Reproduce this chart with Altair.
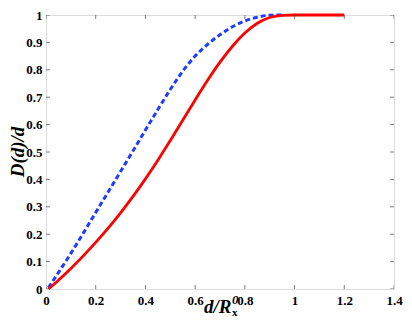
import altair as alt
import pandas as pd

# Red solid curve
red_d = [0.01, 0.05, 0.10, 0.15, 0.20, 0.25, 0.30, 0.35, 0.40, 0.45, 0.50, 0.55,
         0.60, 0.65, 0.70, 0.75, 0.80, 0.85, 0.90, 0.95, 1.00, 1.10, 1.20]
red_v = [0.0, 0.032, 0.075, 0.121, 0.170, 0.222, 0.278, 0.338, 0.402, 0.470, 0.542, 0.616,
         0.690, 0.762, 0.828, 0.886, 0.934, 0.970, 0.991, 0.999, 1.0, 1.0, 1.0]

# Blue dashed curve
blue_d = [0.01, 0.05, 0.10, 0.15, 0.20, 0.25, 0.30, 0.35, 0.40, 0.45, 0.50, 0.55,
          0.60, 0.65, 0.70, 0.75, 0.80, 0.85, 0.90, 0.95]
blue_v = [0.005, 0.06, 0.13, 0.204, 0.279, 0.354, 0.429, 0.504, 0.58, 0.655, 0.728, 0.795,
          0.850, 0.893, 0.928, 0.957, 0.978, 0.992, 0.999, 1.0]

x_ticks = [0, 0.2, 0.4, 0.6, 0.8, 1.0, 1.2, 1.4]
y_ticks = [0, 0.1, 0.2, 0.3, 0.4, 0.5, 0.6, 0.7, 0.8, 0.9, 1.0]

W, H = 348, 274
FONT = "Liberation Serif"

red = pd.DataFrame({"d": red_d, "v": red_v})
blue = pd.DataFrame({"d": blue_d, "v": blue_v})
xt = pd.DataFrame({"t": x_ticks})
yt = pd.DataFrame({"t": y_ticks})

xs = alt.Scale(domain=[0, 1.4], nice=False, zero=False)
ys = alt.Scale(domain=[0, 1], nice=False, zero=False)

xaxis = alt.Axis(values=x_ticks, format="~g", domain=False, ticks=False, grid=False,
                 labelFont=FONT, labelFontWeight="bold", labelFontSize=13,
                 labelColor="black", labelPadding=5, title=None, labelFlush=False,
                 labelOverlap=False)
yaxis = alt.Axis(values=y_ticks, format="~g", domain=False, ticks=False, grid=False,
                 labelFont=FONT, labelFontWeight="bold", labelFontSize=13,
                 labelColor="black", labelPadding=4, title=None, labelFlush=False,
                 labelOverlap=False)

X = lambda f: alt.X(f, scale=xs, axis=xaxis)
Y = lambda f: alt.Y(f, scale=ys, axis=yaxis)

blue_line = alt.Chart(blue).mark_line(
    color="#1f3cff", strokeWidth=3, strokeDash=[5, 3], interpolate="monotone"
).encode(x=X("d:Q"), y=Y("v:Q"))

red_line = alt.Chart(red).mark_line(
    color="#ff0000", strokeWidth=2.8, interpolate="monotone"
).encode(x=X("d:Q"), y=Y("v:Q"))

tick_color = "#444444"
xt_bottom = alt.Chart(xt).mark_tick(orient="vertical", size=8, thickness=1,
                                    color=tick_color, clip=True).encode(
    x=X("t:Q"), y=alt.datum(0, scale=ys, axis=yaxis))
xt_top = alt.Chart(xt).mark_tick(orient="vertical", size=8, thickness=1,
                                 color=tick_color, clip=True).encode(
    x=X("t:Q"), y=alt.datum(1, scale=ys, axis=yaxis))
yt_left = alt.Chart(yt).mark_tick(orient="horizontal", size=8, thickness=1,
                                  color=tick_color, clip=True).encode(
    y=Y("t:Q"), x=alt.datum(0, scale=xs, axis=xaxis))
yt_right = alt.Chart(yt).mark_tick(orient="horizontal", size=8, thickness=1,
                                   color=tick_color, clip=True).encode(
    y=Y("t:Q"), x=alt.datum(1.4, scale=xs, axis=xaxis))

ytitle = alt.Chart(pd.DataFrame({"s": ["D(d)/d"]})).mark_text(
    font=FONT, fontSize=19, fontWeight="bold", fontStyle="italic", angle=270,
    align="center", baseline="middle", color="black"
).encode(text="s:N", x=alt.value(-28), y=alt.value(H / 2))

xtitle = alt.Chart(pd.DataFrame({"s": ["d/R"]})).mark_text(
    font=FONT, fontSize=19, fontWeight="bold", fontStyle="italic",
    align="right", baseline="alphabetic", color="black"
).encode(text="s:N", x=alt.value(185.5), y=alt.value(298))
xsup = alt.Chart(pd.DataFrame({"s": ["0"]})).mark_text(
    font=FONT, fontSize=13, fontWeight="bold", fontStyle="italic",
    align="left", baseline="alphabetic", color="black"
).encode(text="s:N", x=alt.value(186), y=alt.value(289))
xsub = alt.Chart(pd.DataFrame({"s": ["x"]})).mark_text(
    font=FONT, fontSize=11, fontWeight="bold",
    align="left", baseline="alphabetic", color="black"
).encode(text="s:N", x=alt.value(186), y=alt.value(301))

chart = alt.layer(
    blue_line, red_line, xt_bottom, xt_top, yt_left, yt_right, ytitle, xtitle, xsup, xsub
).properties(
    width=W, height=H,
    autosize=alt.AutoSizeParams(type="none"),
    padding={"left": 38, "top": 7, "right": 10, "bottom": 29},
).configure_view(stroke="#333333", strokeWidth=1).configure(background="white")

chart.save("out.html", embed_options={"renderer": "svg", "actions": False})
